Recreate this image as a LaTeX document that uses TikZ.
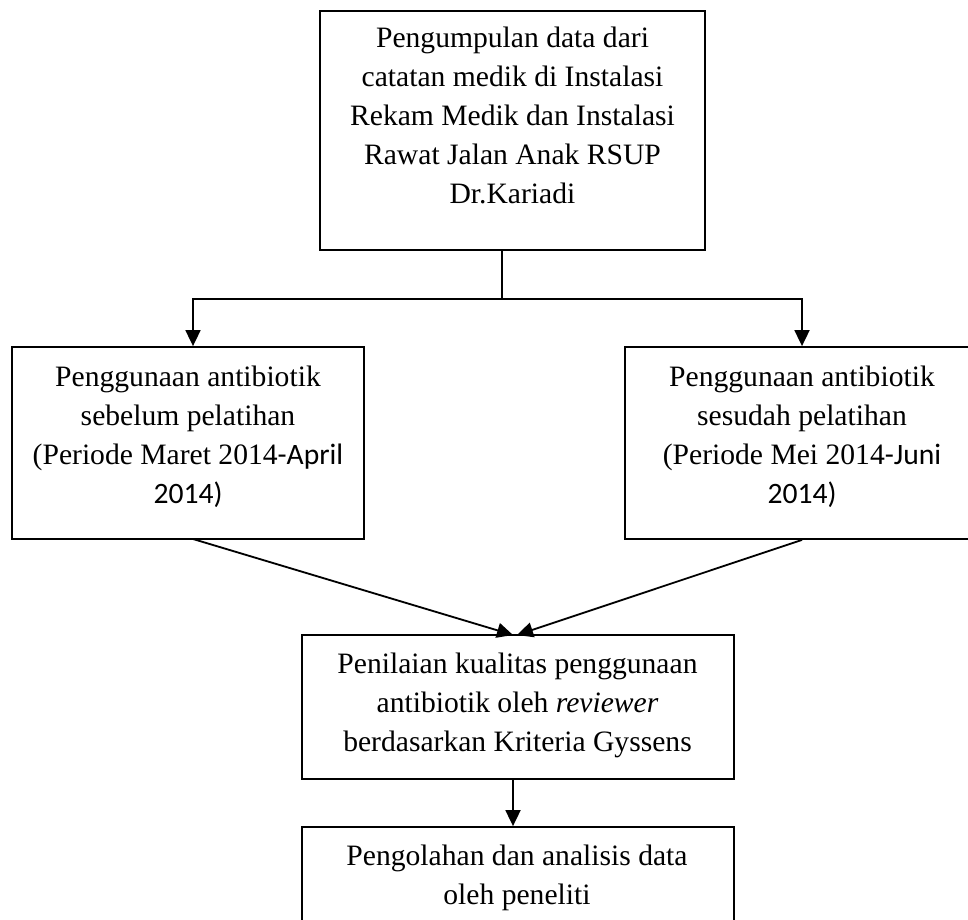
\documentclass[tikz,border=0pt]{standalone}
\usepackage{fontspec}
\setmainfont{Liberation Serif}
\newfontfamily\calib{Carlito}
\usetikzlibrary{arrows.meta}
\begin{document}
\begin{tikzpicture}[x=1pt,y=-1pt,
  box/.style={draw,line width=1.8pt,rectangle,inner sep=0pt},
  txt/.style={anchor=base,inner sep=0pt,font=\fontsize{29.6}{39}\selectfont},
  conn/.style={line width=1.8pt},
  arr/.style={line width=1.8pt,-{Triangle[length=16pt,width=15pt]}}]
\clip (0,0) rectangle (968,919);
\fill[white] (0,0) rectangle (968,919);
% boxes
\node[box,minimum width=385pt,minimum height=239pt] (top) at (512.5,130.5) {};
\node[box,minimum width=352pt,minimum height=192pt] (left) at (188,443) {};
\node[box,minimum width=354pt,minimum height=192pt] (right) at (802,443) {};
\node[box,minimum width=432pt,minimum height=144pt] (mid) at (518,707) {};
\node[box,minimum width=432pt,minimum height=140pt] (bot) at (518,897) {};
% texts
\node[txt] (toptxt) at (512.5,47) {\begin{tabular}[t]{@{}c@{}}Pengumpulan data dari\\catatan medik di Instalasi\\Rekam Medik dan Instalasi\\Rawat Jalan Anak RSUP\\Dr.Kariadi\end{tabular}};
\node[txt] (lefttxt) at (188,386) {\begin{tabular}[t]{@{}c@{}}Penggunaan antibiotik\\sebelum pelatihan\\(Periode Maret 2014{\calib-April}\\{\calib 2014)}\end{tabular}};
\node[txt] (righttxt) at (802,386) {\begin{tabular}[t]{@{}c@{}}Penggunaan antibiotik\\sesudah pelatihan\\(Periode Mei 2014{\calib-Juni}\\{\calib 2014)}\end{tabular}};
\node[txt] (midtxt) at (517.5,673) {\begin{tabular}[t]{@{}c@{}}Penilaian kualitas penggunaan\\antibiotik oleh \textit{reviewer}\\berdasarkan Kriteria Gyssens\end{tabular}};
\node[txt] (bottxt) at (517,865) {\begin{tabular}[t]{@{}c@{}}Pengolahan dan analisis data\\oleh peneliti\end{tabular}};
% connectors
\coordinate (j) at (502,299);
\coordinate (jl) at (193,299);
\coordinate (jr) at (802,299);
\draw[conn] (top.south -| j) -- (j);
\draw[arr] (j) -- (jl) -- (jl |- left.north);
\draw[arr] (j) -- (jr) -- (jr |- right.north);
\coordinate (dl) at (193,539);
\coordinate (ml) at (513,635);
\coordinate (mr) at (517,635);
\draw[arr] (dl) -- (ml);
\draw[arr] (right.south) -- (mr);
\coordinate (mb) at (513,779);
\draw[arr] (mb) -- (mb |- bot.north);
\end{tikzpicture}
\end{document}
